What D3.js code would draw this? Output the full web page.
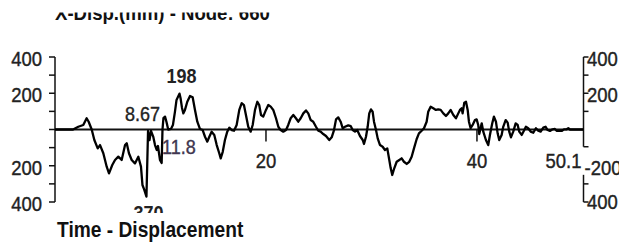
<!DOCTYPE html>
<html>
<head>
<meta charset="utf-8">
<script src="https://cdn.jsdelivr.net/npm/d3@7"></script>
<style>
  body { margin: 0; background: #fff; }
  svg { display: block; }
  text { font-family: "Liberation Sans", Arial, sans-serif; fill: #222; }
  text.reg { stroke: #222; stroke-width: 0.35; }
  .axis line, .axis path { stroke: #111; stroke-width: 1.5; fill: none; }
</style>
</head>
<body>
<div id="chartArea"></div>
<script>
var width = 619,
    height = 243,
    stretch = 1.12; // source text is a little taller than plain Arial

// time (s) and X-displacement (mm)
var times = [0, 1.71, 2.21, 2.68, 3.00, 3.19, 3.48, 3.73, 4.05, 4.27, 4.58, 4.90, 5.12, 5.43, 5.69, 6.00,
  6.32, 6.64, 6.80, 7.01, 7.27, 7.58, 7.90, 8.15, 8.29, 8.45, 8.67, 8.82, 8.96, 9.10, 9.32, 9.48,
  9.64, 9.76, 9.95, 10.11, 10.19, 10.28, 10.43, 10.57, 10.73, 10.99, 11.18, 11.37, 11.52, 11.80, 11.90,
  12.04, 12.17, 12.32, 12.54, 12.80, 13.05, 13.27, 13.49, 13.74, 14.00, 14.22, 14.44, 14.63, 14.85,
  15.10, 15.33, 15.57, 15.71, 15.90, 16.11, 16.33, 16.52, 16.75, 16.97, 17.22, 17.47, 17.70, 17.91,
  18.10, 18.32, 18.55, 18.74, 18.96, 19.18, 19.36, 19.53, 19.74, 20.00, 20.22, 20.45, 20.69, 20.95,
  21.17, 21.39, 21.64, 21.90, 22.11, 22.34, 22.59, 22.84, 23.06, 23.29, 23.54, 23.79, 24.01, 24.24,
  24.48, 24.74, 24.96, 25.18, 25.43, 25.69, 26.00, 26.23, 26.45, 26.64, 26.85, 27.08, 27.27, 27.49,
  27.80, 28.03, 28.22, 28.44, 28.65, 28.91, 29.17, 29.29, 29.48, 29.64, 29.79, 29.95, 30.11, 30.24,
  30.43, 30.59, 30.81, 31.06, 31.28, 31.50, 31.69, 31.82, 31.97, 32.16, 32.39, 32.64, 32.86, 33.08,
  33.34, 33.58, 33.81, 34.03, 34.28, 34.50, 34.76, 34.98, 35.23, 35.38, 35.61, 35.86, 36.11, 36.33,
  36.56, 36.81, 37.06, 37.28, 37.51, 37.76, 38.01, 38.23, 38.39, 38.55, 38.64, 38.80, 38.96, 39.12,
  39.24, 39.40, 39.59, 39.81, 39.97, 40.12, 40.22, 40.45, 40.60, 40.85, 41.07, 41.23, 41.45, 41.61,
  41.80, 41.96, 42.11, 42.34, 42.49, 42.72, 42.91, 43.06, 43.22, 43.44, 43.67, 43.86, 44.01, 44.24,
  44.45, 44.64, 44.86, 45.09, 45.34, 45.59, 45.81, 46.04, 46.29, 46.51, 46.70, 46.92, 47.17, 47.39,
  47.55, 47.80, 48.03, 48.25, 48.50, 48.66, 48.82, 50.1];

var disp = [0, 0, 15, 25, 62, 43, 0, -58, -104, -86, -131, -205, -242, -196, -168, -150,
  -168, -86, -76, -131, -168, -187, -150, -205, -306, -330, -370, -8, -58, -8, -41, -86,
  -113, -91, -168, -185, 0, 63, 71, 41, 0, 3, 25, 97, 163, 198, 174,
  119, 89, 108, 153, 185, 178, 108, 43, 3, -3, -40, -67, -40, -12,
  -30, -86, -131, -159, -123, -58, -12, 10, -3, -7, 25, 108, 145, 135,
  80, 15, -12, 25, 108, 153, 135, 80, 71, 108, 135, 126, 108, 62,
  15, -3, -12, -3, 25, 62, 80, 62, 43, 62, 89, 105, 89, 52,
  43, 15, -7, -12, -25, -36, -58, -43, -3, 56, 67, 43, 7, 15,
  23, 19, -3, -12, -3, -36, -58, -80, -40, 15, 89, 111, 98, 43,
  -3, -49, -86, -95, -113, -104, -168, -213, -251, -214, -178, -168, -159, -178,
  -190, -178, -150, -104, -54, -21, -7, 7, 43, 98, 126, 117, 108, 111,
  108, 89, 75, 89, 108, 80, 62, 89, 108, 117, 89, 148, 153, 108,
  43, 7, 25, 52, 56, 25, -25, 34, -12, -58, -86, -30, 34, 71,
  43, -21, -58, -30, 15, 52, 38, -12, -43, -12, 34, 25, -12, -30,
  -7, 15, 7, -12, -18, 7, -7, -12, 10, 15, -3, -8, 1, 3,
  -7, -8, -8, 1, 1, 7, 0, 0];

var leftTicks = [400, 200, -200, -400],
    leftLabels = ["400", "200", "200", "400"];
var rightTicks = [400, 200, -200, -400],
    rightLabels = ["400", "200", "-200", "400"];
var xTicks = [20, 40],
    xLabels = ["20", "40", "50.1"],
    xLabelValues = [20, 40, 50.1];

var titleText = "X-Disp.(mm) - Node: 660",
    footerText = "Time - Displacement";

var x = d3.scaleLinear().domain([0, 50.1]).range([55, 583.5]);
var y = d3.scaleLinear().domain([-400, 400]).range([202, 57]);

var svg = d3.select("#chartArea").append("svg")
    .attr("width", width)
    .attr("height", height);

drawAxes();
drawCurve();
drawLabels();

function at(px, py) {
    return "translate(" + px + "," + py + ")scale(1," + stretch + ")";
}

function drawAxes() {
    // left axis, ticks every 100 pointing outwards
    var left = svg.append("g").attr("class", "axis");
    left.append("line")
        .attr("x1", x(0)).attr("x2", x(0))
        .attr("y1", y(400)).attr("y2", y(-400));
    left.selectAll(".tick")
        .data(d3.range(-400, 401, 100))
      .enter().append("line")
        .attr("x1", x(0) - 6).attr("x2", x(0))
        .attr("y1", function (d) { return y(d); })
        .attr("y2", function (d) { return y(d); });

    // right axis is broken round the end label
    var right = svg.append("g").attr("class", "axis");
    var xr = x(50.1);
    right.append("line")
        .attr("x1", xr).attr("x2", xr)
        .attr("y1", y(400)).attr("y2", y(-95));
    right.append("line")
        .attr("x1", xr).attr("x2", xr)
        .attr("y1", y(-250)).attr("y2", y(-400));
    right.selectAll(".tick")
        .data([400, 300, 200, 100, -95, -300, -400])
      .enter().append("line")
        .attr("x1", xr).attr("x2", xr + 5)
        .attr("y1", function (d) { return y(d); })
        .attr("y2", function (d) { return y(d); });

    // zero line and time ticks
    svg.append("line")
        .attr("x1", x(0)).attr("x2", xr)
        .attr("y1", y(0)).attr("y2", y(0))
        .style("stroke", "#111").style("stroke-width", 1.8);
    svg.append("g").attr("class", "axis").selectAll("line")
        .data(xTicks)
      .enter().append("line")
        .attr("x1", function (d) { return x(d); })
        .attr("x2", function (d) { return x(d); })
        .attr("y1", y(0)).attr("y2", y(0) + 12);
}

function drawCurve() {
    var pts = times.map(function (t, i) { return [t, disp[i]]; });
    var line = d3.line()
        .x(function (d) { return x(d[0]); })
        .y(function (d) { return y(d[1]); });
    svg.append("path")
        .datum(pts)
        .attr("d", line)
        .style("fill", "none")
        .style("stroke", "#000")
        .style("stroke-width", 2.3)
        .style("stroke-linejoin", "round");
}

function drawLabels() {
    svg.selectAll(".ylabel-left")
        .data(leftTicks)
      .enter().append("text")
        .attr("class", "reg")
        .attr("transform", function (d) { return at(42, y(d) + 9); })
        .attr("text-anchor", "end")
        .style("font-size", "18.5px")
        .text(function (d, i) { return leftLabels[i]; });

    svg.selectAll(".ylabel-right")
        .data(rightTicks)
      .enter().append("text")
        .attr("class", "reg")
        .attr("transform", function (d) {
            var px = d === -200 ? x(50.1) + 1 : x(50.1) + 3.5;
            return at(px, y(d) + (d === -400 ? 7 : 9));
        })
        .style("font-size", "18.5px")
        .text(function (d, i) { return rightLabels[i]; });

    svg.selectAll(".xlabel")
        .data(xLabelValues)
      .enter().append("text")
        .attr("class", "reg")
        .attr("transform", function (d) { return at(d === 50.1 ? x(d) - 2 : x(d), 167.5); })
        .attr("text-anchor", function (d) { return d === 50.1 ? "end" : "middle"; })
        .style("font-size", "18.5px")
        .text(function (d, i) { return xLabels[i]; });

    // max / min annotations
    svg.append("text")
        .attr("transform", at(x(11.8) + 2, 82.5))
        .attr("text-anchor", "middle")
        .style("font-size", "18px").style("font-weight", "bold")
        .text("198");
    svg.append("text")
        .attr("class", "reg")
        .attr("transform", at(160, 121))
        .attr("text-anchor", "end")
        .style("font-size", "18px")
        .text("8.67");
    svg.append("text")
        .attr("class", "reg")
        .attr("transform", at(162, 154))
        .style("font-size", "18px")
        .style("fill", "#40364f").style("stroke", "#40364f")
        .text("11.8");
    svg.append("text")
        .attr("transform", at(x(8.67) + 2, 220))
        .attr("text-anchor", "middle")
        .style("font-size", "18px").style("font-weight", "bold")
        .text("370");

    // footer title sits on a white band that hides the lower part of "370"
    svg.append("rect")
        .attr("x", 0).attr("y", 213).attr("width", 300).attr("height", 30)
        .style("fill", "#fff");
    svg.append("text")
        .attr("transform", at(57, 237))
        .style("font-size", "19.2px").style("font-weight", "bold")
        .style("fill", "#111")
        .text(footerText);

    // chart title, top cut off as in the source
    svg.append("text")
        .attr("transform", at(55, 20))
        .style("font-size", "18.6px").style("font-weight", "bold")
        .style("fill", "#111")
        .text(titleText);
    svg.append("rect")
        .attr("x", 0).attr("y", 0).attr("width", width).attr("height", 12.5)
        .style("fill", "#fff");
}
</script>
</body>
</html>
